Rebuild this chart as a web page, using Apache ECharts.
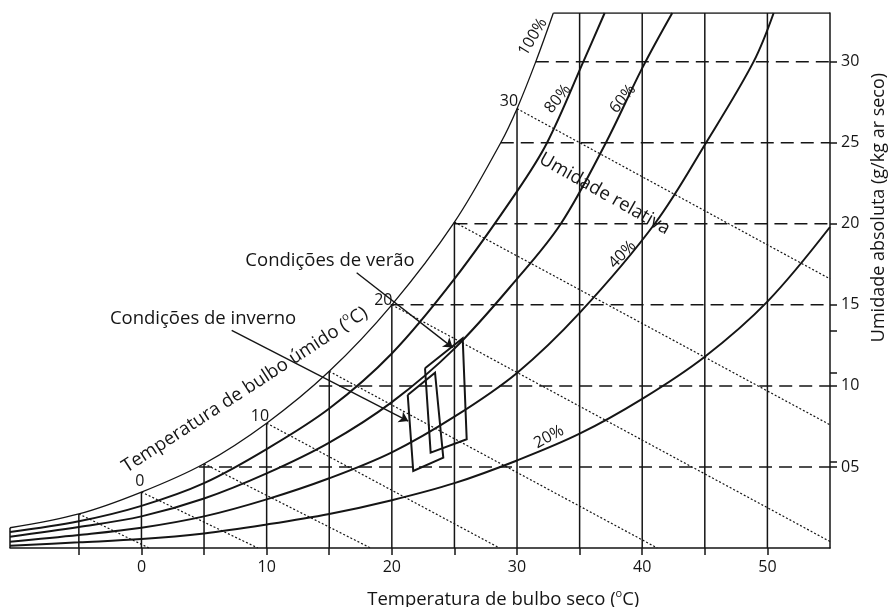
<!DOCTYPE html>
<html>
<head>
<meta charset="utf-8">
<script src="https://cdn.jsdelivr.net/npm/echarts@6/dist/echarts.min.js"></script>
<style>
  html, body { margin: 0; padding: 0; background: #fff; }
  #chart { width: 892px; height: 607px; }
</style>
</head>
<body>
<div id="chart"></div>
<script>
// Relative humidity curves: [dry-bulb temperature (°C), absolute humidity (g/kg dry air)]
const rh100 = [[-10.5, 1.25], [-5, 2.1], [0, 3.45], [5, 5.2], [10, 7.7], [15, 10.9], [20, 15.0], [25, 20.1], [28.7, 25.0], [30, 27.1], [31.5, 30.0], [32.9, 33.0]];
const rh80 = [[-10.5, 0.99], [-5, 1.65], [0, 2.6], [5, 4.0], [10, 6.1], [15, 8.6], [20, 12.0], [25, 16.6], [30, 22.0], [32.4, 25.0], [35.3, 30.0], [37.0, 33.0]];
const rh60 = [[-10.5, 0.7], [-5, 1.3], [0, 1.95], [5, 3.05], [10, 4.6], [15, 6.5], [20, 9.0], [25, 12.3], [30, 16.6], [33.5, 20.0], [37.1, 25.0], [40.0, 29.6], [42.4, 33.0]];
const rh40 = [[-10.5, 0.39], [-5, 0.8], [0, 1.25], [5, 1.95], [10, 3.0], [15, 4.3], [20, 5.9], [25, 8.1], [30, 10.8], [35, 14.5], [41.0, 20.0], [45.1, 25.0], [48.9, 30.0], [50.5, 33.0]];
const rh20 = [[-10.5, 0.14], [-5, 0.35], [0, 0.55], [5, 0.9], [10, 1.45], [15, 2.1], [20, 2.95], [25, 4.0], [30, 5.4], [35, 7.05], [40, 9.2], [45, 11.8], [50, 15.2], [55, 19.8]];
const rhNames = ['100%', '80%', '60%', '40%', '20%'];

// Dry-bulb grid lines and their upper ends (saturation curve or chart top)
const dryBulbTicks = [-5, 0, 5, 10, 15, 20, 25, 30, 35, 40, 45, 50];
const dryBulbLineTop = [2.1, 3.45, 5.2, 7.7, 10.9, 15.0, 20.1, 27.1, 33, 33, 33, 33];
const dryBulbLabels = [0, 10, 20, 30, 40, 50];

// Constant absolute-humidity lines (dashed) and where they leave the saturation curve
const humidityLevels = [5, 10, 15, 20, 25, 30];
const humidityLineStart = [4.6, 14.2, 19.9, 25.0, 28.7, 31.5];
const humidityTicks = [5, 5.35, 10, 10.8, 13.4, 15, 20, 25, 30];

// Wet-bulb lines (dotted): start on saturation, end on the chart border
const wetBulbTemps = [-5, 0, 5, 10, 15, 20, 25, 30];
const wetBulbStartW = [2.1, 3.45, 5.2, 7.7, 10.9, 15.0, 20.1, 27.1];
const wetBulbEnd = [[0.6, 0], [9.3, 0], [18.3, 0], [28.6, 0], [41.2, 0], [55, 0.4], [55, 7.6], [55, 16.6]];
const wetBulbLabels = ['0', '10', '20', '30'];

// Comfort zones
const summerZone = [[22.65, 11.09], [23.1, 5.88], [25.98, 6.71], [25.66, 12.94]];
const winterZone = [[21.27, 9.44], [21.71, 4.75], [24.11, 5.57], [23.45, 10.81]];

const X_MIN = -10.5, X_MAX = 55, Y_MIN = 0, Y_MAX = 33;
const INK = '#151515';
const FONT = "'Open Sans', sans-serif";

const chart = echarts.init(document.getElementById('chart'), null, { renderer: 'canvas' });

const rhSeries = [rh100, rh80, rh60, rh40, rh20].map((d, i) => ({
  type: 'line', name: rhNames[i], data: d, smooth: 0.35, symbol: 'none', silent: true, clip: false,
  lineStyle: { color: INK, width: i === 0 ? 1.3 : 2 }
}));

const segs = (pairs, style) => ({
  type: 'lines', coordinateSystem: 'cartesian2d', silent: true, polyline: true,
  lineStyle: Object.assign({ color: INK, width: 1.5, opacity: 1 }, style),
  data: pairs.map(c => ({ coords: c }))
});

const series = [
  // vertical dry-bulb lines
  segs(dryBulbTicks.map((t, i) => [[t, dryBulbLineTop[i]], [t, 0]]), { width: 1.5 }),
  // dashed humidity lines
  segs(humidityLevels.map((w, i) => [[humidityLineStart[i], w], [X_MAX, w]]), { width: 1.5, type: [13, 7] }),
  // dotted wet-bulb lines
  segs(wetBulbTemps.map((t, i) => [[t, wetBulbStartW[i]], wetBulbEnd[i]]), { width: 1.2, type: [2, 2] }),
  // chart frame pieces not covered by the axes
  segs([[[rh100[rh100.length - 1][0], Y_MAX], [X_MAX, Y_MAX]], [[X_MIN, 0], [X_MIN, rh100[0][1]]]], { width: 1.5 }),
  // comfort zones
  segs([summerZone.concat([summerZone[0]]), winterZone.concat([winterZone[0]])], { width: 2 }),
  // callout arrows
  {
    type: 'lines', coordinateSystem: 'cartesian2d', silent: true,
    symbol: ['none', 'arrow'], symbolSize: 9,
    lineStyle: { color: INK, width: 1.4, opacity: 1 },
    data: [
      { coords: [[17.19, 16.98], [24.86, 12.36]] },
      { coords: [[7.21, 13.43], [21.31, 7.83]] }
    ]
  }
].concat(rhSeries);

chart.setOption({
  animation: false,
  backgroundColor: '#fff',
  grid: { left: 10, right: 62, top: 13, bottom: 59, containLabel: false },
  xAxis: {
    type: 'value', min: X_MIN, max: X_MAX,
    axisLine: { onZero: false, lineStyle: { color: INK, width: 1.5 } },
    axisTick: { customValues: dryBulbTicks, length: 7, lineStyle: { color: INK, width: 1.5 } },
    axisLabel: { customValues: dryBulbLabels, color: INK, fontSize: 16, fontFamily: FONT, margin: 11 },
    splitLine: { show: false }
  },
  yAxis: {
    type: 'value', min: Y_MIN, max: Y_MAX, position: 'right',
    axisLine: { show: true, onZero: false, lineStyle: { color: INK, width: 1.5 } },
    axisTick: { show: true, inside: false, customValues: humidityTicks, length: 7, lineStyle: { color: INK, width: 1.5 } },
    axisLabel: {
      customValues: humidityLevels, color: INK, fontSize: 16, fontFamily: FONT, margin: 11,
      formatter: v => (v < 10 ? '0' + v : String(v))
    },
    splitLine: { show: false }
  },
  series: series
});

// Text annotations placed in data coordinates (axis titles included)
const notes = [
  { text: 'Condições de verão', at: [15.06, 17.7], rot: 0, size: 18.5 },
  { text: 'Condições de inverno', at: [4.92, 14.13], rot: 0, size: 18.5 },
  { sup: ['Temperatura de bulbo úmido (', 'o', 'C)'], at: [8.27, 9.75], rot: 33, size: 18.5 },
  { sup: ['Temperatura de bulbo seco (', 'o', 'C)'], at: [28.9, -3.2], rot: 0, size: 18.5 },
  { text: 'Umidade absoluta (g/kg ar seco)', at: [58.9, 21.0], rot: 90, size: 18 },
  { text: 'Umidade relativa', at: [37.0, 21.84], rot: -29.5, size: 18.5 },
  { text: rhNames[0], at: [31.27, 31.52], rot: 59, size: 16 },
  { text: rhNames[1], at: [33.27, 27.7], rot: 51, size: 16 },
  { text: rhNames[2], at: [38.46, 27.7], rot: 51, size: 16 },
  { text: rhNames[3], at: [38.42, 18.1], rot: 46, size: 16 },
  { text: rhNames[4], at: [32.55, 6.85], rot: 28, size: 16 },
  { text: wetBulbLabels[0], at: [-0.12, 4.13], rot: 0, size: 16 },
  { text: wetBulbLabels[1], at: [9.47, 8.14], rot: 0, size: 16 },
  { text: wetBulbLabels[2], at: [19.32, 15.28], rot: 0, size: 16 },
  { text: wetBulbLabels[3], at: [29.35, 27.53], rot: 0, size: 16 }
];

chart.setOption({
  graphic: notes.map(n => {
    const p = chart.convertToPixel({ gridIndex: 0 }, n.at);
    const style = {
      align: 'center', verticalAlign: 'middle', fill: INK,
      font: n.size + 'px ' + FONT
    };
    if (n.sup) {
      // superscript "o" for the degree sign
      style.text = '{n|' + n.sup[0] + '}{s|' + n.sup[1] + '}{n|' + n.sup[2] + '}';
      style.rich = {
        n: { fontSize: n.size, fontFamily: FONT, fill: INK, lineHeight: 24 },
        s: { fontSize: 11, fontFamily: FONT, fill: INK, lineHeight: 14, verticalAlign: 'top' }
      };
    } else {
      style.text = n.text;
    }
    return {
      type: 'text', x: p[0], y: p[1], rotation: n.rot * Math.PI / 180,
      silent: true, z: 100, style: style
    };
  })
});
</script>
</body>
</html>
